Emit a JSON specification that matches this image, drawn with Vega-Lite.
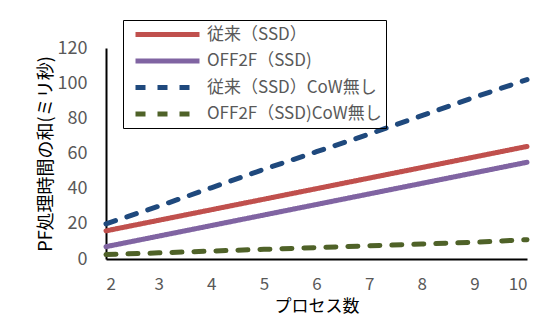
{
  "$schema": "https://vega.github.io/schema/vega-lite/v6.json",
  "autosize": "none",
  "width": 421,
  "height": 211,
  "padding": {"left": 106, "top": 48, "right": 23, "bottom": 61},
  "background": "white",
  "config": {
    "view": {"stroke": null},
    "font": "Noto Sans CJK JP"
  },
  "data": {
    "values": [
      {"n": 2, "series": "従来（SSD）", "ms": 16},
      {"n": 3, "series": "従来（SSD）", "ms": 22},
      {"n": 4, "series": "従来（SSD）", "ms": 28},
      {"n": 5, "series": "従来（SSD）", "ms": 34},
      {"n": 6, "series": "従来（SSD）", "ms": 40},
      {"n": 7, "series": "従来（SSD）", "ms": 46},
      {"n": 8, "series": "従来（SSD）", "ms": 52},
      {"n": 9, "series": "従来（SSD）", "ms": 58},
      {"n": 10, "series": "従来（SSD）", "ms": 64},
      {"n": 2, "series": "OFF2F（SSD)", "ms": 7},
      {"n": 3, "series": "OFF2F（SSD)", "ms": 13},
      {"n": 4, "series": "OFF2F（SSD)", "ms": 19},
      {"n": 5, "series": "OFF2F（SSD)", "ms": 25},
      {"n": 6, "series": "OFF2F（SSD)", "ms": 31},
      {"n": 7, "series": "OFF2F（SSD)", "ms": 37},
      {"n": 8, "series": "OFF2F（SSD)", "ms": 43},
      {"n": 9, "series": "OFF2F（SSD)", "ms": 49},
      {"n": 10, "series": "OFF2F（SSD)", "ms": 55},
      {"n": 2, "series": "従来（SSD）CoW無し", "ms": 20},
      {"n": 3, "series": "従来（SSD）CoW無し", "ms": 30},
      {"n": 4, "series": "従来（SSD）CoW無し", "ms": 40.5},
      {"n": 5, "series": "従来（SSD）CoW無し", "ms": 51},
      {"n": 6, "series": "従来（SSD）CoW無し", "ms": 61},
      {"n": 7, "series": "従来（SSD）CoW無し", "ms": 71},
      {"n": 8, "series": "従来（SSD）CoW無し", "ms": 81.5},
      {"n": 9, "series": "従来（SSD）CoW無し", "ms": 92},
      {"n": 10, "series": "従来（SSD）CoW無し", "ms": 102},
      {"n": 2, "series": "OFF2F（SSD)CoW無し", "ms": 2.5},
      {"n": 3, "series": "OFF2F（SSD)CoW無し", "ms": 3.5},
      {"n": 4, "series": "OFF2F（SSD)CoW無し", "ms": 4.5},
      {"n": 5, "series": "OFF2F（SSD)CoW無し", "ms": 5.5},
      {"n": 6, "series": "OFF2F（SSD)CoW無し", "ms": 6.5},
      {"n": 7, "series": "OFF2F（SSD)CoW無し", "ms": 7.5},
      {"n": 8, "series": "OFF2F（SSD)CoW無し", "ms": 8.5},
      {"n": 9, "series": "OFF2F（SSD)CoW無し", "ms": 9.5},
      {"n": 10, "series": "OFF2F（SSD)CoW無し", "ms": 11}
    ]
  },
  "mark": {"type": "line", "strokeWidth": 5, "strokeCap": "round"},
  "encoding": {
    "x": {
      "field": "n",
      "type": "quantitative",
      "scale": {"domain": [2, 10], "nice": false, "zero": false},
      "axis": {
        "title": "プロセス数",
        "values": [2, 3, 4, 5, 6, 7, 8, 9, 10],
        "grid": false,
        "ticks": false,
        "domainColor": "#000000",
        "domainWidth": 2,
        "labelColor": "#595959",
        "labelFont": "Noto Sans CJK JP",
        "labelFontSize": 17,
        "labelPadding": 17,
        "titleFont": "Noto Sans CJK JP",
        "titleFontSize": 17,
        "titleFontWeight": "normal",
        "titleColor": "#000000",
        "titlePadding": 6
      }
    },
    "y": {
      "field": "ms",
      "type": "quantitative",
      "scale": {"domain": [0, 120], "nice": false},
      "axis": {
        "title": "PF処理時間の和(ミリ秒)",
        "values": [0, 20, 40, 60, 80, 100, 120],
        "grid": false,
        "ticks": false,
        "domainColor": "#000000",
        "domainWidth": 2,
        "labelColor": "#595959",
        "labelFont": "Noto Sans CJK JP",
        "labelFontSize": 18,
        "labelPadding": 19,
        "titleFont": "Noto Sans CJK JP",
        "titleFontSize": 18,
        "titleFontWeight": "normal",
        "titleColor": "#000000",
        "titlePadding": 2
      }
    },
    "color": {
      "field": "series",
      "type": "nominal",
      "sort": ["従来（SSD）", "OFF2F（SSD)", "従来（SSD）CoW無し", "OFF2F（SSD)CoW無し"],
      "scale": {
        "domain": ["従来（SSD）", "OFF2F（SSD)", "従来（SSD）CoW無し", "OFF2F（SSD)CoW無し"],
        "range": ["#C0504D", "#8064A2", "#1F497D", "#4F6228"]
      },
      "legend": {
        "title": null,
        "orient": "none",
        "legendX": 17,
        "legendY": -28,
        "strokeColor": "#000000",
        "padding": 4,
        "symbolType": "M-1,0H7",
        "symbolSize": 256,
        "symbolStrokeWidth": 5,
        "symbolOffset": 6,
        "labelFont": "Noto Sans CJK JP",
        "labelFontSize": 17,
        "labelColor": "#595959",
        "labelLimit": 400,
        "rowPadding": 5.5,
        "labelOffset": 53
      }
    },
    "strokeDash": {
      "field": "series",
      "type": "nominal",
      "sort": ["従来（SSD）", "OFF2F（SSD)", "従来（SSD）CoW無し", "OFF2F（SSD)CoW無し"],
      "scale": {
        "domain": ["従来（SSD）", "OFF2F（SSD)", "従来（SSD）CoW無し", "OFF2F（SSD)CoW無し"],
        "range": [[1, 0], [1, 0], [10, 12], [10, 12]]
      },
      "legend": null
    }
  }
}
